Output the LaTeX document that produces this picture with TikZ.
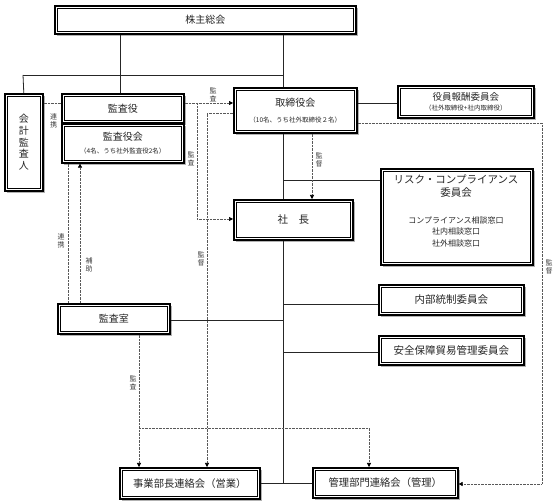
\documentclass[tikz,border=0pt]{standalone}
\usepackage{fontspec}
\setmainfont{Noto Sans CJK JP}
\usetikzlibrary{shadows,arrows.meta}
\tikzset{
  box/.style={draw=black, line width=1.6pt, fill=white, inner sep=0pt, anchor=north west,
    align=center, text=black!85, font=\fontsize{10}{12}\selectfont,
    drop shadow={shadow xshift=2pt, shadow yshift=-2pt, fill=gray!60, opacity=1},
    path picture={\draw[line width=0.6pt]
      ([xshift=2.6pt,yshift=-2.6pt]path picture bounding box.north west) rectangle
      ([xshift=-2.6pt,yshift=2.6pt]path picture bounding box.south east);}},
  wh/.style 2 args={minimum width=#1pt, minimum height=#2pt},
  conn/.style={line width=0.8pt, black!85},
  dotln/.style={line width=0.6pt, gray!70!black, dash pattern=on 0.7pt off 0.7pt},
  arr/.style={-{Triangle[length=4pt,width=4pt,color=black]}},
  lbl/.style={font=\fontsize{7}{8}\selectfont, text=black!75, inner sep=0pt, align=center},
  small/.style={font=\fontsize{6.5}{8}\selectfont}
}
\begin{document}
\begin{tikzpicture}[x=1pt,y=-1pt]
\useasboundingbox (0,0) rectangle (560,502);
% boxes
\node[box, wh={301}{28}] (kabu) at (54,5) {株主総会};
\node[box, wh={38}{97}, font=\fontsize{10}{11.8}\selectfont] (kaikei) at (4,93) {会\\計\\監\\査\\人};
\node[box, wh={122}{29}] (kansayaku) at (61,93) {監査役};
\node[box, wh={122}{39}] (kansayakukai) at (61,123) {監査役会\\[1pt]{\fontsize{6.5}{8}\selectfont（4名、うち社外監査役2名）}};
\node[box, wh={123}{45}] (tori) at (233,87) {取締役会\\[4pt]{\fontsize{6.5}{8}\selectfont（10名、うち社外取締役２名）}};
\node[box, wh={136}{32}, font=\fontsize{9.5}{10}\selectfont] (yakuin) at (397,85) {役員報酬委員会\\{\fontsize{6.5}{8}\selectfont（社外取締役+社内取締役）}};
\node[box, wh={119}{40}, font=\fontsize{10.5}{12}\selectfont] (shacho) at (233,199) {社　長};
\node[box, wh={152}{96}] (risk) at (380,168) {};
\node[inner sep=0pt, align=center, text=black!85, font=\fontsize{10.5}{13}\selectfont] (riskTitle) at (456,186.5) {リスク・コンプライアンス\\委員会};
\node[inner sep=0pt, align=center, text=black!85, font=\fontsize{8}{11.5}\selectfont] (riskList) at (456,231.5) {コンプライアンス相談窓口\\社内相談窓口\\社外相談窓口};
\node[box, wh={145}{30}, font=\fontsize{10.5}{12}\selectfont] (naibu) at (378,284) {内部統制委員会};
\node[box, wh={145}{29}, font=\fontsize{10.5}{12}\selectfont] (anzen) at (378,335) {安全保障貿易管理委員会};
\node[box, wh={112}{30}] (shitsu) at (57,303) {監査室};
\node[box, wh={140}{31}, font=\fontsize{10.3}{12}\selectfont] (jigyo) at (119,467) {事業部長連絡会（営業）};
\node[box, wh={145}{30}, font=\fontsize{10.3}{12}\selectfont] (kanri) at (312,467) {管理部門連絡会（管理）};
% coordinates
\coordinate (c120) at (120,75);
\coordinate (c283) at (283,75);
\coordinate (c24) at (23,75);
\coordinate (y103) at (0,103);
\coordinate (b1) at (283,180);
\coordinate (b2) at (283,304);
\coordinate (b3) at (283,352);
\coordinate (b4) at (283,320);
\coordinate (tend) at (283,483);
% solid connectors
\draw[conn] (kabu.south -| c120) -- (kansayaku.north -| c120);
\draw[conn] (kabu.south -| c283) -- (tori.north -| c283);
\draw[conn] (c24) -- (c283);
\draw[conn] (c24) -- (kaikei.north);
\draw[conn] (tori.east |- y103) -- (yakuin.west |- y103);
\draw[conn] (tori.south -| c283) -- (shacho.north -| c283);
\draw[conn] (shacho.south -| c283) -- (tend) -- (kanri.west |- tend);
\draw[conn] (jigyo.east |- tend) -- (tend);
\draw[conn] (b1) -- (risk.west |- b1);
\draw[conn] (b2) -- (naibu.west |- b2);
\draw[conn] (b3) -- (anzen.west |- b3);
\draw[conn] (shitsu.east |- b4) -- (b4);
% dotted connectors
\coordinate (k197a) at (197,103);
\coordinate (k197b) at (197,219);
\coordinate (k207) at (207,113);
\coordinate (k312) at (312,0);
\coordinate (k542) at (542,123);
\coordinate (k68) at (68,0);
\coordinate (k80) at (80,0);
\coordinate (k139) at (139,428);
\coordinate (k369) at (369,428);
\coordinate (kend) at (542,484);
\draw[dotln] (kaikei.east |- y103) -- (kansayaku.west |- y103);
\draw[dotln, arr] (kansayaku.east |- y103) -- (tori.west |- y103);
\draw[dotln, arr] (k197a) -- (k197b) -- (shacho.west |- k197b);
\draw[dotln, arr] (tori.west |- k207) -- (k207) -- (k207 |- jigyo.north);
\draw[dotln, arr] (tori.south -| k312) -- (shacho.north -| k312);
\draw[dotln, arr] (tori.east |- k542) -- (k542) -- (kend) -- (kanri.east |- kend);
\draw[dotln] (shitsu.north -| k68) -- (kansayakukai.south -| k68);
\draw[dotln, arr] (shitsu.north -| k80) -- (kansayakukai.south -| k80);
\draw[dotln, arr] (shitsu.south -| k139) -- (k139 |- jigyo.north);
\draw[dotln, arr] (k139) -- (k369) -- (k369 |- kanri.north);
% labels
\node[lbl] (l1) at (53.5,121) {連\\携};
\node[lbl] (l2) at (213,95) {監\\査};
\node[lbl] (l3) at (191,159) {監\\査};
\node[lbl] (l4) at (201,259) {監\\督};
\node[lbl] (l5) at (319,160) {監\\督};
\node[lbl] (l6) at (549,267) {監\\督};
\node[lbl] (l7) at (61,241) {連\\携};
\node[lbl] (l8) at (89,265) {補\\助};
\node[lbl] (l9) at (133,383) {監\\査};
\end{tikzpicture}
\end{document}
